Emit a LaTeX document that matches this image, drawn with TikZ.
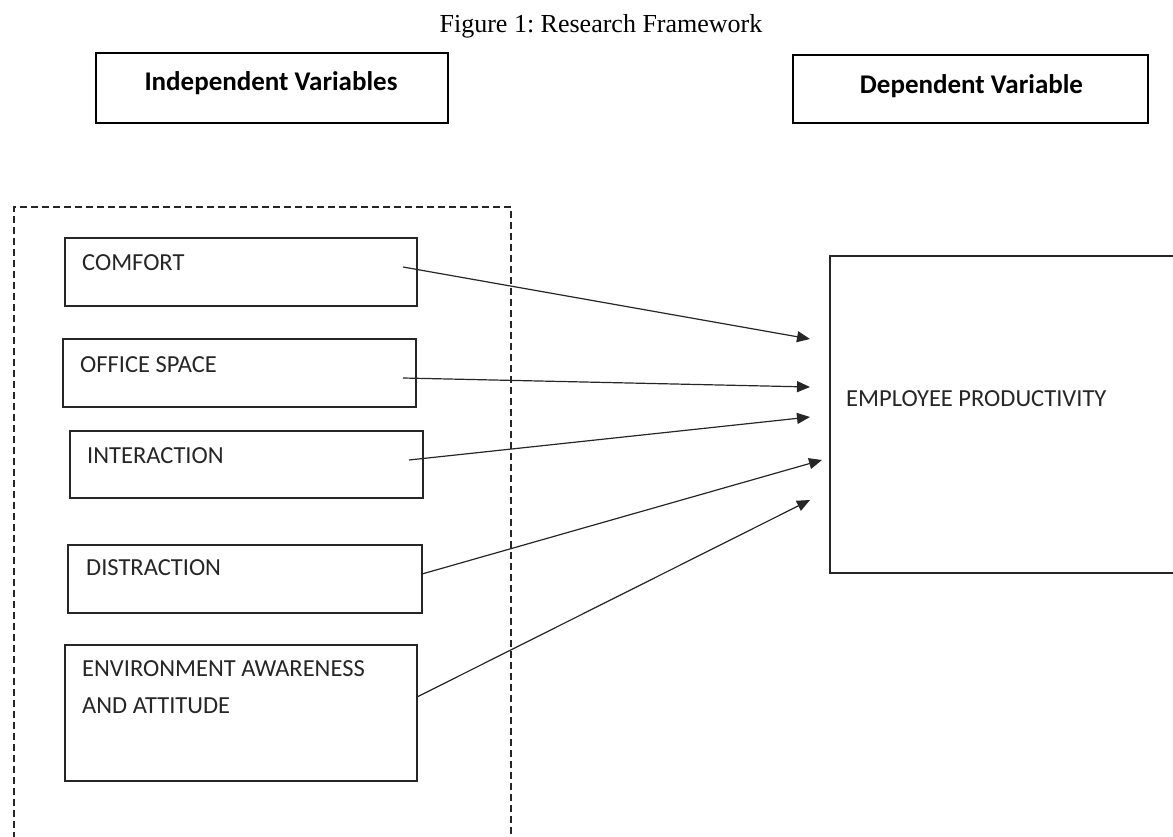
\documentclass[tikz,border=0pt]{standalone}
\usepackage{fontspec}
\setmainfont{Liberation Serif}
\newfontfamily\calfont{Carlito}
\usetikzlibrary{arrows.meta}
\frenchspacing
\begin{document}
\begin{tikzpicture}[x=1pt,y=-1pt,
  hdrbox/.style={draw=black, line width=2.6pt, rectangle, inner sep=0pt},
  hdrtxt/.style={font=\calfont\bfseries\fontsize{27}{32}\selectfont, inner sep=0pt, anchor=base},
  varbox/.style={draw=black!85, line width=1.3pt, rectangle, inner sep=0pt},
  lbl/.style={font=\calfont\fontsize{24.5}{29}\selectfont, text=black!85, inner sep=0pt, anchor=base west},
  dashbox/.style={draw=black!85, line width=1.3pt, dash pattern=on 7pt off 4pt},
  link/.style={draw=black!85, line width=1.2pt, -{Triangle[length=13pt,width=11pt]}}]
\useasboundingbox (0,0) rectangle (1173,837);

% title
\node[font=\fontsize{26}{31}\selectfont, inner sep=0pt, anchor=base] (title) at (601,33) {Figure 1: Research Framework};

% header boxes
\node[hdrbox, minimum width=352pt, minimum height=70pt] (indbox) at (272,88) {};
\node[hdrtxt] (indtxt) at (271,91) {Independent Variables};
\node[hdrbox, minimum width=355pt, minimum height=68pt] (depbox) at (970.5,89) {};
\node[hdrtxt] (deptxt) at (971.5,94) {Dependent Variable};

% dashed frame
\draw[dashbox] (14,850) -- (14,207) -- (511,207) -- (511,850);

% independent variable boxes
\node[varbox, minimum width=352pt, minimum height=68pt] (comfort) at (241,272) {};
\node[lbl] (tcomfort) at (82,270) {COMFORT};
\node[varbox, minimum width=353pt, minimum height=68pt] (office) at (239.5,373) {};
\node[lbl] (toffice) at (80,372) {OFFICE SPACE};
\node[varbox, minimum width=353pt, minimum height=67pt] (inter) at (246.5,464.5) {};
\node[lbl] (tinter) at (87,463) {INTERACTION};
\node[varbox, minimum width=354pt, minimum height=68pt] (distr) at (245,579) {};
\node[lbl] (tdistr) at (86,575) {DISTRACTION};
\node[varbox, minimum width=352pt, minimum height=136pt] (env) at (241,713) {};
\node[lbl] (tenv1) at (82,676) {ENVIRONMENT AWARENESS};
\node[lbl] (tenv2) at (82,713) {AND ATTITUDE};

% dependent variable box
\node[varbox, minimum width=360pt, minimum height=317pt] (emp) at (1010,414.5) {};
\node[lbl] (temp) at (846,406) {EMPLOYEE PRODUCTIVITY};

% connector end points
\coordinate (cs) at (403,267);
\coordinate (ct) at (810,339);
\coordinate (os) at (403,378);
\coordinate (ot) at (810,387);
\coordinate (is) at (409,460);
\coordinate (it) at (810,417);
\coordinate (ds) at (422,574);
\coordinate (dt) at (822,460);
\coordinate (es) at (417,697);
\coordinate (et) at (810,500);

\draw[link] (cs) -- (ct);
\draw[link] (os) -- (ot);
\draw[link] (is) -- (it);
\draw[link] (ds) -- (dt);
\draw[link] (es) -- (et);
\end{tikzpicture}
\end{document}
